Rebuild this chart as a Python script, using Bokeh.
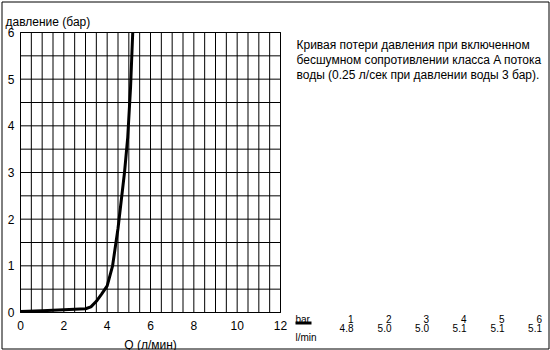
from bokeh.plotting import figure
from bokeh.models import FixedTicker, Range1d, ColumnDataSource
from bokeh.core.properties import value
from bokeh.embed import file_html
from bokeh.resources import INLINE

# ---- data ----
flow_lpm = [0, 1, 2, 3, 3.25, 3.5, 3.75, 4.0, 4.25, 4.5, 4.8, 4.95, 5.08, 5.18]
pressure_bar = [0.02, 0.04, 0.06, 0.08, 0.12, 0.24, 0.40, 0.57, 1.0, 1.8, 3.0, 3.76, 4.83, 6.0]

x_ticks = [0, 2, 4, 6, 8, 10, 12]
y_ticks = [0, 1, 2, 3, 4, 5, 6]
grid_step = 0.5

table_bar = ["1", "2", "3", "4", "5", "6"]
table_lmin = ["4.8", "5.0", "5.0", "5.1", "5.1", "5.1"]

y_title = "давление (бар)"
x_title = "Q (л/мин)"
note_lines = [
    "Кривая потери давления при включенном",
    "бесшумном сопротивлении класса A  потока",
    "воды (0.25 л/сек при давлении воды 3 бар).",
]
unit_labels = ["bar", "l/min"]

FONT = "Liberation Sans"

# ---- layout (canvas pixels) ----
W, H = 550, 350
FL, FR, FT, FB = 20, 280, 32, 312   # plot-area edges
X0, X1, Y0, Y1 = x_ticks[0], x_ticks[-1], y_ticks[0], y_ticks[-1]
KX = (FR - FL) / (X1 - X0)
KY = (FB - FT) / (Y1 - Y0)

def dx(px):
    return X0 + (px - FL) / KX

def dy(py):
    return Y0 + (FB - py) / KY

p = figure(frame_width=W, frame_height=H, output_backend="svg", toolbar_location=None,
           title=None,
           x_range=Range1d(dx(0), dx(W)), y_range=Range1d(dy(H), dy(0)),
           min_border_left=0, min_border_right=0, min_border_top=0, min_border_bottom=0)
p.background_fill_color = "white"
p.border_fill_color = "white"
p.outline_line_color = None
p.xgrid.visible = False
p.ygrid.visible = False

# axes, pinned to the data origin so their labels sit next to the plot area
for ax in (p.xaxis, p.yaxis):
    ax.axis_line_color = None
    ax.major_tick_line_color = None
    ax.minor_tick_line_color = None
    ax.major_tick_out = 0
    ax.major_tick_in = 0
    ax.major_label_text_font = FONT
    ax.major_label_text_font_size = "12px"
    ax.major_label_text_color = "black"
p.xaxis.fixed_location = Y0
p.yaxis.fixed_location = X0
p.xaxis.bounds = (X0, X1)
p.yaxis.bounds = (Y0, Y1)
p.xaxis.ticker = FixedTicker(ticks=x_ticks)
p.yaxis.ticker = FixedTicker(ticks=y_ticks)
p.yaxis.major_label_standoff = 6
p.xaxis.major_label_standoff = 8

# grid (every 0.5 unit) limited to the plot area
gx = [X0 + i * grid_step for i in range(int((X1 - X0) / grid_step) + 1)]
gy = [Y0 + i * grid_step for i in range(int((Y1 - Y0) / grid_step) + 1)]
p.segment(x0=gx, y0=[Y0] * len(gx), x1=gx, y1=[Y1] * len(gx),
          line_color="black", line_width=1)
p.segment(x0=[X0] * len(gy), y0=gy, x1=[X1] * len(gy), y1=gy,
          line_color="black", line_width=1)
p.quad(left=[X0], right=[X1], bottom=[Y0], top=[Y1], fill_color=None,
       line_color="black", line_width=1)

# curve
p.line(flow_lpm, pressure_bar, line_color="black", line_width=3)

txt = dict(text_font=value(FONT), text_color="black", text_baseline="alphabetic")

# axis titles
p.text([dx(5)], [dy(21.5)], [y_title], text_font_size="12px", text_align="left", **txt)
p.text([(X0 + X1) / 2], [dy(344)], [x_title], text_font_size="12px",
       text_align="center", **txt)

# note
NOTE_X, NOTE_Y0, NOTE_DY = 296, 44.5, 14.8
p.text([dx(NOTE_X)] * len(note_lines),
       [dy(NOTE_Y0 + i * NOTE_DY) for i in range(len(note_lines))],
       note_lines, text_font_size="12px", text_align="left", **txt)

# table
TAB_X, HEAD_Y, VAL_Y, UNIT_Y, LINE_Y = 295, 318.5, 327.5, 337, 322.5
col_right = [353, 391, 428.5, 466, 504, 541.5]
p.text([dx(TAB_X)] * 2, [dy(HEAD_Y), dy(UNIT_Y)], unit_labels,
       text_font_size="10px", text_align="left", **txt)
tab_src = ColumnDataSource(dict(x=[dx(c) for c in col_right],
                                yh=[dy(HEAD_Y)] * len(col_right),
                                yv=[dy(VAL_Y)] * len(col_right),
                                h=table_bar, v=table_lmin))
p.text("x", "yh", "h", source=tab_src, text_font_size="10px", text_align="right", **txt)
p.text("x", "yv", "v", source=tab_src, text_font_size="10px", text_align="right", **txt)
p.line([dx(TAB_X), dx(TAB_X + 16)], [dy(LINE_Y)] * 2, line_color="black", line_width=3)

# outer border of the picture
p.quad(left=[dx(1.5)], right=[dx(W - 1.5)], bottom=[dy(H - 1.5)], top=[dy(1.5)],
       fill_color=None, line_color="black", line_width=1)

open("out.html", "w").write(file_html(p, INLINE))
